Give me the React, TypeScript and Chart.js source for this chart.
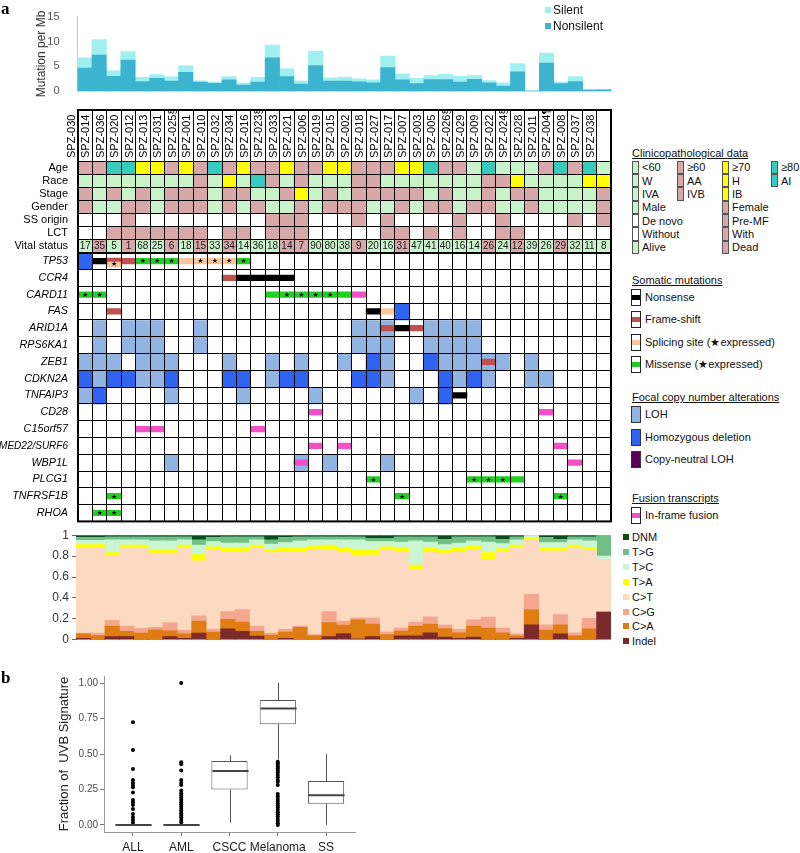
import React, { useEffect, useRef } from "react";
import { Chart, registerables } from "chart.js";

Chart.register(...registerables);
const FONT = "'Liberation Sans', Arial, Helvetica, sans-serif";
Chart.defaults.font.family = FONT;
Chart.defaults.color = "#222";

// ---------------- data ----------------
const sampleIds = ["SPZ-030","SPZ-014","SPZ-036","SPZ-020","SPZ-012","SPZ-013","SPZ-031","SPZ-025§","SPZ-001","SPZ-010","SPZ-032","SPZ-034","SPZ-016","SPZ-023§","SPZ-033","SPZ-021","SPZ-006","SPZ-019","SPZ-015","SPZ-002","SPZ-018","SPZ-027","SPZ-017","SPZ-007","SPZ-003","SPZ-005","SPZ-026§","SPZ-029","SPZ-009","SPZ-022","SPZ-024§","SPZ-028","SPZ-011","SPZ-004¶","SPZ-008","SPZ-037","SPZ-038"];

const nonsilentRate = [4.7,7.3,3.0,6.3,1.95,2.6,2.05,3.8,1.85,1.6,2.3,1.25,1.85,6.75,2.95,1.45,5.2,2.05,2.05,1.9,1.7,4.8,2.3,1.55,2.35,2.35,1.85,2.4,1.7,1.05,3.9,0.05,5.7,1.55,1.95,0.25,0.3];
const silentRate = [2.05,3.1,1.1,1.7,0.85,0.75,0.85,1.35,0.25,0.25,0.65,0.4,0.95,2.55,1.6,0.6,2.9,0.65,0.8,0.6,0.6,2.3,1.2,1.05,0.8,1.05,1.15,0.8,0.45,0.65,1.7,0.05,2.0,0.3,1.0,0.15,0.1];

const ageGroup = ["≥60","≥60","≥80","≥80","≥70","≥70","≥60","≥70","≥60","≥80","≥60","≥70","≥60","≥60","≥70","≥60","≥60","≥70","≥70","≥60","≥60","≥60","≥70","≥70","≥80","≥60","≥60","<60","≥80","<60","<60","<60","≥60","≥80","≥60","≥80","<60"];
const race = ["W","W","W","W","W","W","W","W","AA","W","H","W","AI","AA","W","AA","W","W","W","AA","AA","W","W","W","W","W","W","W","AA","AA","H","W","W","W","W","H","H"];
const stage = ["IVB","IVA","IVB","IVA","IVB","IVA","IVB","IVB","IVB","IVA","IVB","IVB","IVA","IVA","IVB","IB","IVA","IVB","IVA","IVB","IVB","IVB","IVB","IVB","IVA","IVB","IVA","IVA","IVB","IVA","IVB","IVB","IVA","IVA","IVA","IVA","IVB"];
const gender = ["Female","Male","Male","Female","Female","Male","Female","Female","Female","Male","Female","Male","Female","Male","Male","Female","Male","Female","Female","Female","Male","Male","Female","Male","Female","Female","Male","Female","Female","Male","Male","Female","Male","Male","Male","Male","Female"];
const ssOrigin = ["De novo","De novo","De novo","Pre-MF","De novo","De novo","De novo","De novo","De novo","De novo","De novo","De novo","De novo","Pre-MF","Pre-MF","Pre-MF","De novo","De novo","De novo","Pre-MF","De novo","Pre-MF","De novo","De novo","De novo","De novo","Pre-MF","De novo","De novo","Pre-MF","De novo","De novo","De novo","De novo","Pre-MF","De novo","Pre-MF"];
const lct = ["Without","Without","With","With","With","With","With","With","With","Without","With","With","Without","With","With","With","Without","Without","Without","Without","Without","With","With","Without","With","Without","With","Without","Without","With","With","Without","Without","Without","Without","Without","Without"];
const vitalStatus = ["Alive","Dead","Alive","Dead","Alive","Alive","Dead","Alive","Dead","Alive","Dead","Alive","Alive","Alive","Dead","Dead","Alive","Alive","Alive","Dead","Alive","Alive","Dead","Alive","Alive","Alive","Alive","Alive","Dead","Alive","Dead","Alive","Alive","Dead","Alive","Alive","Alive"];
const survivalMonths = [17,35,5,1,68,25,6,18,15,33,34,14,36,18,14,7,90,80,38,9,20,16,31,47,41,40,16,14,26,24,12,39,26,29,32,11,8];

// gene alterations by sample column (1-based). N nonsense, F frame-shift, S splicing, M missense,
// U in-frame fusion, * expressed; L LOH, D homozygous deletion, C copy-neutral LOH
const TP53 = {1:"D",2:"N",3:"F,S*",4:"F",5:"M*",6:"M*",7:"M*",8:"S",9:"S*",10:"S*",11:"S*",12:"M*"};
const CCR4 = {11:"F",12:"N",13:"N",14:"N",15:"N"};
const CARD11 = {1:"M*",2:"M*",14:"M",15:"M*",16:"M*",17:"M*",18:"M*",19:"M",20:"U"};
const FAS = {3:"F",21:"N",22:"S",23:"D"};
const ARID1A = {2:"L",4:"L",5:"L",6:"L",9:"L",20:"L",21:"L",22:"L,F",23:"N",24:"F",25:"L",26:"L",27:"L",28:"L"};
const RPS6KA1 = {2:"L",4:"L",5:"L",6:"L",9:"L",20:"L",21:"L",22:"L",25:"L",26:"L",27:"L",28:"L"};
const ZEB1 = {1:"L",2:"L",3:"L",5:"L",6:"L",7:"L",11:"L",14:"L",16:"L",19:"L",21:"D",22:"L",25:"D",26:"L",27:"L",28:"L",29:"L,F",30:"L",32:"L"};
const CDKN2A = {1:"D",2:"L",3:"D",4:"D",5:"L",6:"L",7:"D",11:"D",12:"D",14:"L",15:"D",16:"D",20:"D",21:"D",22:"L",26:"D",27:"L",28:"D",29:"L",32:"L",33:"L"};
const TNFAIP3 = {1:"L",2:"D",7:"L",12:"L",17:"L",24:"L",26:"D",27:"N"};
const CD28 = {17:"U",33:"U"};
const C15orf57 = {5:"U",6:"U",13:"U"};
const MED22_SURF6 = {17:"U",19:"U",34:"U"};
const WBP1L = {7:"L",16:"L,U",18:"L",22:"L",35:"U"};
const PLCG1 = {21:"M*",28:"M*",29:"M*",30:"M*",31:"M"};
const TNFRSF1B = {3:"M*",23:"M*",34:"M*"};
const RHOA = {2:"M*",3:"M*"};

// mutation spectrum fractions
const specIndel = [.015,0,.03,.03,0,0,.03,.015,.065,0,.105,.08,.035,0,.015,0,0,.03,.06,.01,.03,0,.037,.037,.067,.027,.015,.027,0,0,.015,.144,0,.058,0,0,.266];
const specCA = [.045,.04,.10,.05,.065,.095,.055,.045,.115,.075,.09,.09,.045,.045,.06,.12,.04,.135,.08,.18,.12,.05,.046,.093,.083,.08,.052,.103,.113,.067,.022,.146,.092,.086,.037,.104,0];
const specCG = [0,.025,.055,.05,.045,.025,.08,.03,.05,.025,.075,.12,.05,.02,.025,.01,.01,.105,.04,.02,.06,.025,.03,.04,.07,.033,.033,.06,.104,.046,.021,.144,.052,.096,.03,.101,0];
const specCT = [.82,.815,.615,.745,.765,.71,.665,.785,.525,.76,.575,.555,.745,.77,.74,.715,.815,.595,.655,.595,.60,.785,.732,.495,.615,.69,.745,.665,.548,.727,.817,.516,.706,.61,.808,.65,.504];
const specTA = [.03,.03,.035,.03,.03,.035,.035,.03,.06,.03,.03,.03,.03,.03,.04,.04,.03,.04,.04,.05,.05,.03,.03,.05,.05,.03,.03,.04,.07,.03,.03,.02,.03,.03,.03,.03,0];
const specTC = [.04,.04,.12,.05,.05,.08,.08,.05,.09,.05,.05,.05,.05,.05,.05,.06,.06,.05,.08,.10,.08,.05,.06,.23,.05,.05,.05,.05,.10,.05,.05,.03,.05,.05,.05,.06,.03];
const specTG = [.03,.03,.03,.03,.03,.04,.04,.03,.05,.04,.06,.06,.03,.04,.05,.04,.03,.03,.03,.03,.03,.03,.05,.04,.05,.05,.06,.04,.05,.04,.03,0,.05,.03,.03,.04,.2];
const specDNM = [.02,.02,.015,.015,.015,.015,.015,.015,.045,.02,.015,.015,.015,.045,.02,.015,.015,.015,.015,.015,.03,.03,.015,.015,.015,.04,.015,.015,.015,.04,.015,0,.02,.04,.015,.015,0];

// panel b box plots
const boxGroups = ["ALL","AML","CSCC","Melanoma","SS"];
const boxLow = [0,0,0.016,0.46,0];
const boxQ1 = [0,0,0.25,0.71,0.15];
const boxMedian = [0,0,0.38,0.82,0.21];
const boxQ3 = [0,0,0.45,0.88,0.31];
const boxHigh = [0,0,0.49,1.0,0.50];
const outliersALL = [0.723,0.528,0.394,0.317,0.298,0.282,0.265,0.228,0.176,0.16,0.141,0.113,0.077,0.054,0.035,0.016];
const outliersAML = [1.0,0.441,0.427,0.383,0.317,0.298,0.282,0.242,0.223,0.207,0.192,0.176,0.16,0.146,0.129,0.113,0.099,0.082,0.066,0.052,0.035,0.019];
const outliersMelanoma = [0.446,0.434,0.423,0.411,0.399,0.383,0.369,0.352,0.336,0.317,0.305,0.282,0.218,0.2,0.183,0.169,0.153,0.136,0.122,0.106,0.089,0.075,0.059,0.042,0.028,0.012,0.0];

// ---------------- styles ----------------
const GREEN = "#c9f3c9", PINK = "#d8a7a7", YELLOW = "#ffff00", TEAL = "#36cbbf", WHITE = "#ffffff";
const clinicalColor = {
  "<60": GREEN, "≥60": PINK, "≥70": YELLOW, "≥80": TEAL,
  W: GREEN, AA: PINK, H: YELLOW, AI: TEAL,
  IVA: GREEN, IVB: PINK, IB: YELLOW,
  Male: GREEN, Female: PINK,
  "De novo": WHITE, "Pre-MF": PINK,
  Without: WHITE, With: PINK,
  Alive: GREEN, Dead: PINK,
};
const MUT_COLOR = { N: "#000000", F: "#c0504d", S: "#f9c59c", M: "#1fd11f", U: "#f44fc9" };
const CNA_COLOR = { L: "#92b4e2", D: "#2f63f2", C: "#5b0058" };
const SPEC_COLORS = { DNM: "#0b4b1c", TG: "#6fbf86", TC: "#c9f5d3", TA: "#ffff00", CT: "#fbdac1", CG: "#f4a78e", CA: "#e07d12", Indel: "#7b2b2b" };

const clinicalRowNames = ["Age","Race","Stage","Gender","SS origin","LCT","Vital status"];
const clinicalRows = [ageGroup, race, stage, gender, ssOrigin, lct, vitalStatus];
const geneNames = ["TP53","CCR4","CARD11","FAS","ARID1A","RPS6KA1","ZEB1","CDKN2A","TNFAIP3","CD28","C15orf57","MED22/SURF6","WBP1L","PLCG1","TNFRSF1B","RHOA"];
const geneRows = [TP53,CCR4,CARD11,FAS,ARID1A,RPS6KA1,ZEB1,CDKN2A,TNFAIP3,CD28,C15orf57,MED22_SURF6,WBP1L,PLCG1,TNFRSF1B,RHOA];

const rowLabels = [...clinicalRowNames, ...geneNames];
const CLIN_H = 13.15, GENE_H = 16.875, STRIP_H = 5.6;
const rowH = rowLabels.map((_, i) => (i < clinicalRowNames.length ? CLIN_H : GENE_H));
const rowTop: number[] = [];
let accH = 0;
rowH.forEach((h) => { rowTop.push(accH); accH += h; });
const gridMax = accH;
const clinEnd = clinicalRowNames.length * CLIN_H;
const rowCenter = rowTop.map((t, i) => t + rowH[i] / 2);
const rowBounds = [...rowTop, gridMax];

function splitCode(code: string) {
  const parts = code ? code.split(",") : [];
  const cna = parts.find((p) => p in CNA_COLOR);
  const muts = parts.filter((p) => !(p in CNA_COLOR));
  return { cna, muts };
}
function stripRange(center: number, n: number, slot: number) {
  if (n === 1) return [center - STRIP_H / 2, center + STRIP_H / 2];
  return slot === 0 ? [center - 2.9, center + 0.4] : [center + 0.4, center + 5.6];
}

// ---------------- configs ----------------
function topConfig(): any {
  return {
    type: "bar",
    data: {
      labels: sampleIds,
      datasets: [
        { label: "Nonsilent", data: nonsilentRate, backgroundColor: "#3db4cf", stack: "m" },
        { label: "Silent", data: silentRate, backgroundColor: "#a0f0f2", stack: "m" },
      ],
    },
    options: {
      responsive: false, animation: false,
      layout: { padding: { top: 4.5, bottom: 9, left: 0, right: 8.5 } },
      plugins: { legend: { display: false }, tooltip: { enabled: false } },
      datasets: { bar: { barPercentage: 1, categoryPercentage: 1, borderWidth: 0 } },
      scales: {
        x: { stacked: true, display: false },
        y: {
          stacked: true, min: 0, max: 15,
          ticks: { stepSize: 5, padding: 10, color: "#555", font: { size: 11 } },
          grid: { display: false },
          border: { color: "#c8c8c8" },
          title: { display: true, text: "Mutation per Mb", color: "#333", font: { size: 12 }, padding: { top: 34, bottom: 0 } },
          afterFit: (s: any) => { s.width = 77.5; },
        },
      },
    },
  };
}

const gridExtras = {
  id: "gridExtras",
  afterDraw(chart: any) {
    const { ctx, chartArea } = chart;
    const xs = chart.scales.x, ys = chart.scales.y;
    ctx.save();
    ctx.textAlign = "center";
    ctx.textBaseline = "middle";
    ctx.fillStyle = "#1a1a1a";
    ctx.font = `10px ${FONT}`;
    const vy = ys.getPixelForValue(rowCenter[clinicalRowNames.length - 1]);
    survivalMonths.forEach((v, c) => ctx.fillText(String(v), xs.getPixelForValue(c), vy + 0.5));
    ctx.font = `7px 'DejaVu Sans', ${FONT}`;
    ctx.fillStyle = "#000";
    geneRows.forEach((gene: any, g) => {
      const r = g + clinicalRowNames.length;
      sampleIds.forEach((_, c) => {
        const { muts } = splitCode(gene[c + 1] || "");
        muts.forEach((m, slot) => {
          if (m.includes("*")) {
            const [a, b] = stripRange(rowCenter[r], muts.length, slot);
            ctx.fillText("★", xs.getPixelForValue(c), ys.getPixelForValue((a + b) / 2) + 0.5);
          }
        });
      });
    });
    ctx.lineWidth = 2;
    ctx.strokeStyle = "#000";
    ctx.strokeRect(chartArea.left, xs.top, chartArea.right - chartArea.left, chartArea.bottom - xs.top);
    ctx.restore();
  },
};

function gridConfig(): any {
  const nClin = clinicalRowNames.length;
  const cellSets = rowLabels.map((name, r) => ({
    type: "bar",
    label: name,
    order: 2,
    data: sampleIds.map(() => [rowTop[r], rowTop[r] + rowH[r]]),
    backgroundColor: sampleIds.map((_, c) => {
      if (r < nClin) return (clinicalColor as any)[clinicalRows[r][c]] || WHITE;
      const { cna } = splitCode((geneRows[r - nClin] as any)[c + 1] || "");
      return cna ? (CNA_COLOR as any)[cna] : WHITE;
    }),
  }));
  const stripSets: any[] = [];
  geneRows.forEach((gene: any, g) => {
    const r = g + nClin;
    [0, 1].forEach((slot) => {
      let any = false;
      const data = sampleIds.map((_, c) => {
        const { muts } = splitCode(gene[c + 1] || "");
        if (muts.length > slot) { any = true; return stripRange(rowCenter[r], muts.length, slot); }
        return null;
      });
      const colors = sampleIds.map((_, c) => {
        const { muts } = splitCode(gene[c + 1] || "");
        return muts.length > slot ? (MUT_COLOR as any)[muts[slot][0]] : "rgba(0,0,0,0)";
      });
      if (any) stripSets.push({ type: "bar", label: geneNames[g] + slot, order: 1, data, backgroundColor: colors });
    });
  });
  return {
    type: "bar",
    data: { labels: sampleIds, datasets: [...cellSets, ...stripSets] },
    plugins: [gridExtras],
    options: {
      responsive: false, animation: false,
      layout: { padding: { top: 10, bottom: 7, left: 0, right: 9 } },
      plugins: { legend: { display: false }, tooltip: { enabled: false } },
      datasets: { bar: { barPercentage: 1, categoryPercentage: 1, borderWidth: 0, grouped: false } },
      scales: {
        x: {
          type: "category", position: "top",
          grid: { color: "#000", lineWidth: 1, tickLength: 51, drawTicks: true, offset: true, z: 1 },
          border: { display: true, color: "#000", width: 1, z: 1 },
          ticks: { autoSkip: false, minRotation: 90, maxRotation: 90, padding: -48, color: "#000", font: { size: 11 }, z: 2 },
          afterFit: (s: any) => { s.height = 51; },
        },
        y: {
          type: "linear", position: "left", reverse: true, min: 0, max: gridMax,
          afterBuildTicks: (s: any) => { s.ticks = rowCenter.map((v) => ({ value: v })); },
          ticks: {
            autoSkip: false, padding: 2, color: "#000",
            callback: (_v: any, i: number) => rowLabels[i],
            font: (ctx: any) => ({
              size: rowLabels[ctx.index] === "MED22/SURF6" ? 10 : ctx.index >= nClin ? 10.8 : 11,
              style: ctx.index >= nClin ? "italic" : "normal",
            }),
          },
          grid: { display: false },
          border: { display: false },
          afterFit: (s: any) => { s.width = 78; },
        },
        yg: {
          type: "linear", position: "left", reverse: true, min: 0, max: gridMax,
          afterBuildTicks: (s: any) => { s.ticks = rowBounds.map((v) => ({ value: v })); },
          ticks: { display: false },
          grid: { color: "#000", drawTicks: false, z: 1, lineWidth: (ctx: any) => (ctx.tick && Math.abs(ctx.tick.value - clinEnd) < 0.01 ? 2 : 1) },
          border: { display: false },
          afterFit: (s: any) => { s.width = 0; },
        },
      },
    },
  };
}

function spectrumConfig(): any {
  const series = [
    ["Indel", specIndel, SPEC_COLORS.Indel], ["C>A", specCA, SPEC_COLORS.CA], ["C>G", specCG, SPEC_COLORS.CG],
    ["C>T", specCT, SPEC_COLORS.CT], ["T>A", specTA, SPEC_COLORS.TA], ["T>C", specTC, SPEC_COLORS.TC],
    ["T>G", specTG, SPEC_COLORS.TG], ["DNM", specDNM, SPEC_COLORS.DNM],
  ];
  return {
    type: "bar",
    data: { labels: sampleIds, datasets: series.map(([label, data, color]) => ({ label, data, backgroundColor: color })) },
    options: {
      responsive: false, animation: false,
      layout: { padding: { top: 9, bottom: 7, left: 0, right: 9 } },
      plugins: { legend: { display: false }, tooltip: { enabled: false } },
      datasets: { bar: { barPercentage: 1, categoryPercentage: 1, borderWidth: 0 } },
      scales: {
        x: { stacked: true, display: false },
        y: {
          stacked: true, min: 0, max: 1,
          ticks: {
            stepSize: 0.1, padding: 3, color: "#333", font: { size: 12 },
            callback: (v: number) => { const t = Math.round(v * 10); return t % 2 ? "" : t === 0 ? "0" : t === 10 ? "1" : (t / 10).toFixed(1); },
          },
          grid: { drawOnChartArea: false, tickLength: 4, color: "#666" },
          border: { color: "#888" },
          afterFit: (s: any) => { s.width = 76; },
        },
      },
    },
  };
}

const boxWhiskers = {
  id: "boxWhiskers",
  afterDatasetsDraw(chart: any) {
    const { ctx } = chart;
    const xs = chart.scales.x, ys = chart.scales.y;
    const half = xs.getPixelForValue(0.375) - xs.getPixelForValue(0);
    const line = (x1: number, y1: number, x2: number, y2: number) => { ctx.beginPath(); ctx.moveTo(x1, y1); ctx.lineTo(x2, y2); ctx.stroke(); };
    ctx.save();
    boxGroups.forEach((_, i) => {
      const x = Math.round(xs.getPixelForValue(i)) + 0.5;
      ctx.strokeStyle = "#555"; ctx.lineWidth = 1;
      line(x, ys.getPixelForValue(boxQ3[i]), x, ys.getPixelForValue(boxHigh[i]));
      line(x, ys.getPixelForValue(boxLow[i]), x, ys.getPixelForValue(boxQ1[i]));
      ctx.strokeStyle = "#444"; ctx.lineWidth = 2;
      const ym = ys.getPixelForValue(boxMedian[i]);
      line(x - half, ym, x + half, ym);
    });
    ctx.restore();
  },
};

function boxConfig(): any {
  const outlierPts = [
    ...outliersALL.map((y) => ({ x: 0, y })),
    ...outliersAML.map((y) => ({ x: 1, y })),
    ...outliersMelanoma.map((y) => ({ x: 3, y })),
  ];
  return {
    type: "bar",
    data: {
      datasets: [
        {
          type: "bar", order: 2,
          data: boxGroups.map((_, i) => ({ x: i, y: [boxQ1[i], boxQ3[i]] })),
          backgroundColor: "#ffffff", borderColor: "#555", borderWidth: 1, borderSkipped: false,
          barPercentage: 0.75, categoryPercentage: 1,
        },
        { type: "scatter", order: 1, data: outlierPts, pointRadius: 2, backgroundColor: "#000", borderWidth: 0 },
      ],
    },
    plugins: [boxWhiskers],
    options: {
      responsive: false, animation: false,
      layout: { padding: { top: 11, bottom: 0, left: 0, right: 65 } },
      plugins: { legend: { display: false }, tooltip: { enabled: false } },
      scales: {
        x: {
          type: "linear", min: -0.6, max: 4.6, offset: false,
          afterBuildTicks: (s: any) => { s.ticks = boxGroups.map((_, i) => ({ value: i })); },
          ticks: { callback: (v: number) => boxGroups[v], font: { size: 12 }, color: "#1a1a1a", padding: 4 },
          grid: { drawOnChartArea: false, tickLength: 4, color: "#777", offset: false },
          border: { color: "#999" },
          afterFit: (s: any) => { s.height = 21; },
        },
        y: {
          type: "linear", min: -0.05, max: 1.05,
          afterBuildTicks: (s: any) => { s.ticks = [0, 0.25, 0.5, 0.75, 1].map((v) => ({ value: v })); },
          ticks: { callback: (v: number) => v.toFixed(2), font: { size: 10 }, color: "#4d4d4d", padding: 2 },
          grid: { drawOnChartArea: false, tickLength: 4, color: "#777" },
          border: { color: "#999" },
          title: { display: true, text: "Fraction of  UVB Signature", color: "#222", font: { size: 13 }, padding: { top: 57, bottom: 0 } },
          afterFit: (s: any) => { s.width = 104; },
        },
      },
    },
  };
}

// ---------------- components ----------------
function ChartCanvas({ left, top, width, height, make }: any) {
  const ref = useRef<HTMLCanvasElement>(null);
  useEffect(() => {
    const chart = new Chart(ref.current as HTMLCanvasElement, make());
    return () => chart.destroy();
  }, []);
  return <canvas ref={ref} width={width} height={height} style={{ position: "absolute", left, top, width, height }} />;
}

function Txt({ x, cy, size = 11, children, style }: any) {
  const lh = Math.round(size * 1.25);
  return (
    <div style={{ position: "absolute", left: x, top: cy - lh / 2, fontSize: size, lineHeight: `${lh}px`, whiteSpace: "nowrap", color: "#111", ...style }}>
      {children}
    </div>
  );
}

const clinLegendCols = [
  { x: 632, items: [["<60", GREEN], ["W", GREEN], ["IVA", GREEN], ["Male", GREEN], ["De novo", WHITE], ["Without", WHITE], ["Alive", GREEN]] },
  { x: 677, items: [["≥60", PINK], ["AA", PINK], ["IVB", PINK]] },
  { x: 722, items: [["≥70", YELLOW], ["H", YELLOW], ["IB", YELLOW], ["Female", PINK], ["Pre-MF", PINK], ["With", PINK], ["Dead", PINK]] },
  { x: 771, items: [["≥80", TEAL], ["AI", TEAL]] },
];
const mutLegend = [["Nonsense", MUT_COLOR.N, 297], ["Frame-shift", MUT_COLOR.F, 319], ["Splicing site (★expressed)", MUT_COLOR.S, 342], ["Missense (★expressed)", MUT_COLOR.M, 364]];
const cnaLegend = [["LOH", CNA_COLOR.L, 414], ["Homozygous deletion", CNA_COLOR.D, 437], ["Copy-neutral LOH", CNA_COLOR.C, 459]];
const specLegend = [["DNM", SPEC_COLORS.DNM], ["T>G", SPEC_COLORS.TG], ["T>C", SPEC_COLORS.TC], ["T>A", SPEC_COLORS.TA], ["C>T", SPEC_COLORS.CT], ["C>G", SPEC_COLORS.CG], ["C>A", SPEC_COLORS.CA], ["Indel", SPEC_COLORS.Indel]];

export default function App() {
  const CLROW = 13.35, CLTOP = 160.5;
  return (
    <div style={{ position: "absolute", left: 0, top: 0, width: 800, height: 853, background: "#fff", fontFamily: FONT, overflow: "hidden" }}>
      <ChartCanvas left={0} top={0} width={620} height={108} make={topConfig} />
      <ChartCanvas left={0} top={100} width={620} height={430} make={gridConfig} />
      <ChartCanvas left={0} top={525} width={620} height={125} make={spectrumConfig} />
      <ChartCanvas left={0} top={665} width={420} height={188} make={boxConfig} />

      <div style={{ position: "absolute", left: 1, top: 0, fontFamily: "'Liberation Serif', 'DejaVu Serif', serif", fontWeight: "bold", fontSize: 17, lineHeight: "17px" }}>a</div>
      <div style={{ position: "absolute", left: 1, top: 669, fontFamily: "'Liberation Serif', 'DejaVu Serif', serif", fontWeight: "bold", fontSize: 17, lineHeight: "17px" }}>b</div>

      {/* top legend */}
      <div style={{ position: "absolute", left: 545, top: 7, width: 6, height: 6, background: "#a0f0f2" }} />
      <Txt x={553} cy={10} size={12}>Silent</Txt>
      <div style={{ position: "absolute", left: 545, top: 23, width: 6, height: 6, background: "#3db4cf" }} />
      <Txt x={553} cy={26} size={12}>Nonsilent</Txt>

      {/* clinical legend */}
      <Txt x={632} cy={153} style={{ textDecoration: "underline" }}>Clinicopathological data</Txt>
      {clinLegendCols.map((col) => col.items.map(([label, color], i) => (
        <React.Fragment key={col.x + label}>
          <div style={{ position: "absolute", left: col.x, top: CLTOP + i * CLROW, width: 7, height: CLROW, background: color, border: "1px solid #555", boxSizing: "border-box" }} />
          <Txt x={col.x + 10} cy={CLTOP + i * CLROW + CLROW / 2}>{label}</Txt>
        </React.Fragment>
      )))}

      {/* somatic mutation legend */}
      <Txt x={632} cy={280} style={{ textDecoration: "underline" }}>Somatic mutations</Txt>
      {mutLegend.map(([label, color, cy]: any) => (
        <React.Fragment key={label}>
          <div style={{ position: "absolute", left: 631, top: cy - 8.5, width: 10, height: 17, background: "#fff", border: "1px solid #222", boxSizing: "border-box" }}>
            <div style={{ position: "absolute", left: 0, right: 0, top: 5, height: 5, background: color }} />
          </div>
          <Txt x={645} cy={cy}>{label}</Txt>
        </React.Fragment>
      ))}
      <Txt x={632} cy={397} style={{ textDecoration: "underline" }}>Focal copy number alterations</Txt>
      {cnaLegend.map(([label, color, cy]: any) => (
        <React.Fragment key={label}>
          <div style={{ position: "absolute", left: 631, top: cy - 8.5, width: 10, height: 17, background: color, border: "1px solid #333", boxSizing: "border-box" }} />
          <Txt x={645} cy={cy}>{label}</Txt>
        </React.Fragment>
      ))}
      <Txt x={632} cy={498} style={{ textDecoration: "underline" }}>Fusion transcripts</Txt>
      <div style={{ position: "absolute", left: 631, top: 515 - 8.5, width: 10, height: 17, background: "#fff", border: "1px solid #222", boxSizing: "border-box" }}>
        <div style={{ position: "absolute", left: 0, right: 0, top: 5, height: 5, background: MUT_COLOR.U }} />
      </div>
      <Txt x={645} cy={515}>In-frame fusion</Txt>

      {/* spectrum legend */}
      {specLegend.map(([label, color], i) => (
        <React.Fragment key={label}>
          <div style={{ position: "absolute", left: 623, top: 537 + i * 14.9 - 3, width: 6, height: 6, background: color }} />
          <Txt x={632} cy={537 + i * 14.9}>{label}</Txt>
        </React.Fragment>
      ))}
    </div>
  );
}
